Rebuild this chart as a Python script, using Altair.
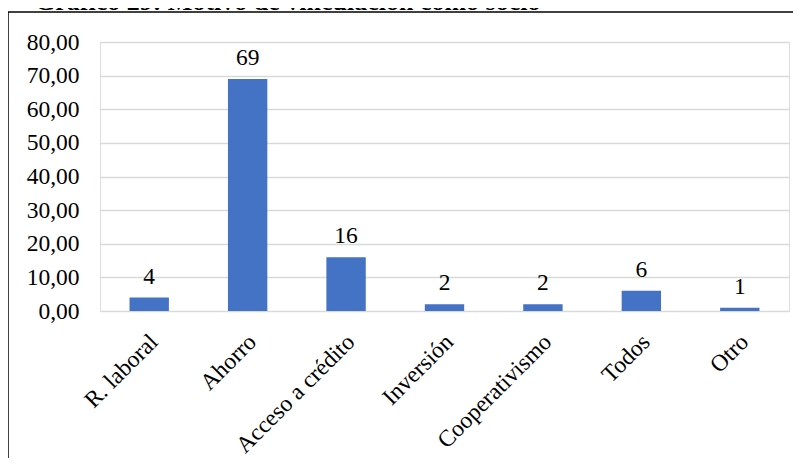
import altair as alt
import pandas as pd

categories = ["R. laboral", "Ahorro", "Acceso a crédito", "Inversión", "Cooperativismo", "Todos", "Otro"]
values = [4, 69, 16, 2, 2, 6, 1]
y_ticks = [0, 10, 20, 30, 40, 50, 60, 70, 80]
title_text = "Gráfico 29: Motivo de vinculación como socio"

df = pd.DataFrame({"cat": categories, "val": values})
FONT = "Liberation Serif"

x_enc = alt.X("cat:N", sort=categories, title=None,
              scale=alt.Scale(paddingInner=0.6, paddingOuter=0.3),
              axis=alt.Axis(labelAngle=-45, labelFont=FONT, labelFontSize=23.5,
                            labelColor="black", labelPadding=27, labelOffset=5, ticks=False,
                            domain=False, labelAlign="right", labelBaseline="middle",
                            labelOverlap=False, labelLimit=300))
y_enc = alt.Y("val:Q", title=None,
              scale=alt.Scale(domain=[0, 80], nice=False),
              axis=alt.Axis(values=y_ticks, tickCount=9,
                            labelExpr="replace(format(datum.value, '.2f'), '.', ',')",
                            labelFont=FONT, labelFontSize=23.5, labelColor="black",
                            labelPadding=21, ticks=False, domain=False, labelOverlap=False,
                            gridColor="#d9d9d9", gridWidth=1.5))

base = alt.Chart(df).encode(x=x_enc, y=y_enc)
bars = base.mark_bar(color="#4472C4")
labels = base.mark_text(font=FONT, fontSize=23.5, color="black",
                        baseline="alphabetic", dy=-14).encode(text="val:Q")

frame_df = pd.DataFrame({"k": [0]})
top_line = alt.Chart(frame_df).mark_rule(color="black", strokeWidth=1.5, clip=False).encode(
    x=alt.value(-92), x2=alt.value(693), y=alt.value(-30))
left_line = alt.Chart(frame_df).mark_rule(color="black", strokeWidth=1.5, clip=False).encode(
    x=alt.value(-92), y=alt.value(-30), y2=alt.value(420))
title = alt.Chart(pd.DataFrame({"t": [title_text]})).mark_text(
    font=FONT, fontSize=26, fontWeight="bold", color="black", align="left",
    baseline="alphabetic").encode(x=alt.value(-65), y=alt.value(-32), text="t:N")

chart = alt.layer(bars, labels, top_line, left_line, title).properties(
    width=689, height=269,
    autosize=alt.AutoSizeParams(type="none"),
    padding={"left": 92, "top": 34, "right": 6, "bottom": 147},
).configure_view(stroke=None).configure(background="white")

chart.save("out.html", embed_options={"renderer": "svg", "actions": False})
